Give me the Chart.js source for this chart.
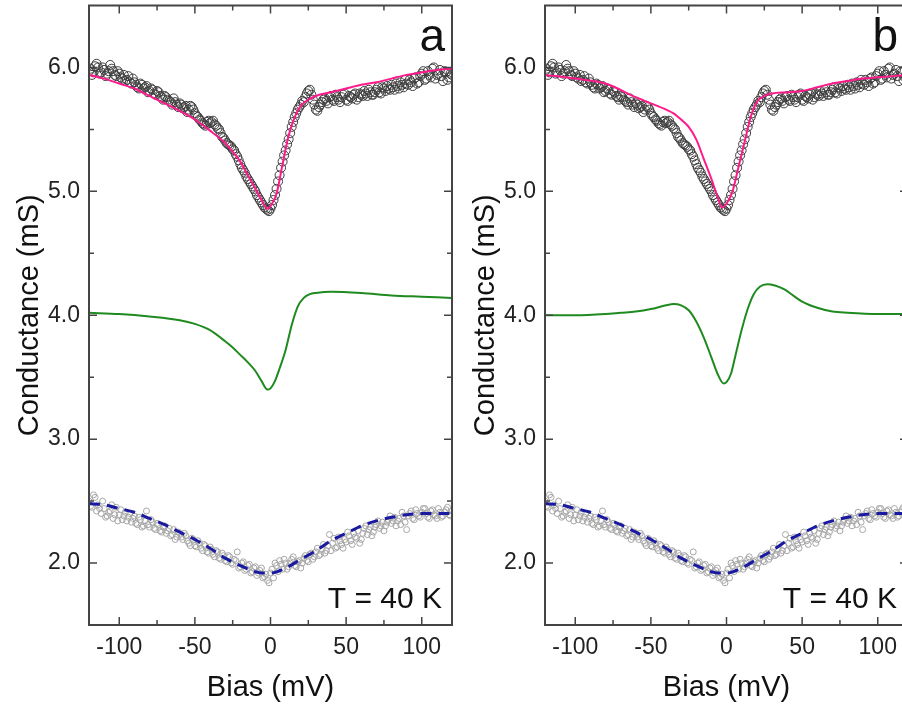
<!DOCTYPE html>
<html>
<head>
<meta charset="utf-8">
<script src="https://cdn.jsdelivr.net/npm/chart.js@4.4.1/dist/chart.umd.min.js"></script>
<style>
html, body { margin: 0; padding: 0; background: #fff; overflow: hidden; width: 902px; height: 710px; }
.panel { position: absolute; top: 0; width: 460px; height: 710px; }
#panelA { left: 0; }
#panelB { left: 456px; }
</style>
</head>
<body>
<div class="panel" id="panelA"><canvas id="chartA" width="460" height="710"></canvas></div>
<div class="panel" id="panelB"><canvas id="chartB" width="460" height="710"></canvas></div>
<script>
// measured bias grid (mV), even and odd sweeps
const bias = [-120,-118,-116,-114,-112,-110,-108,-106,-104,-102,-100,-98,-96,-94,-92,-90,-88,-86,-84,-82,
  -80,-78,-76,-74,-72,-70,-68,-66,-64,-62,-60,-58,-56,-54,-52,-50,-48,-46,-44,-42,
  -40,-38,-36,-34,-32,-30,-28,-26,-24,-22,-20,-18,-16,-14,-12,-10,-8,-6,-4,-2,
  0,2,4,6,8,10,12,14,16,18,20,22,24,26,28,30,32,34,36,38,
  40,42,44,46,48,50,52,54,56,58,60,62,64,66,68,70,72,74,76,78,
  80,82,84,86,88,90,92,94,96,98,100,102,104,106,108,110,112,114,116,118,120];
const biasOdd = [-119,-117,-115,-113,-111,-109,-107,-105,-103,-101,-99,-97,-95,-93,-91,-89,-87,-85,-83,-81,
  -79,-77,-75,-73,-71,-69,-67,-65,-63,-61,-59,-57,-55,-53,-51,-49,-47,-45,-43,-41,
  -39,-37,-35,-33,-31,-29,-27,-25,-23,-21,-19,-17,-15,-13,-11,-9,-7,-5,-3,-1,
  1,3,5,7,9,11,13,15,17,19,21,23,25,27,29,31,33,35,37,39,
  41,43,45,47,49,51,53,55,57,59,61,63,65,67,69,71,73,75,77,79,
  81,83,85,87,89,91,93,95,97,99,101,103,105,107,109,111,113,115,117,119];

// upper data set (black open circles), mS
const topData = [5.97,5.94,6.01,6.00,5.96,5.98,5.95,6.02,5.97,5.93,5.95,5.91,5.89,5.93,5.87,5.88,5.84,5.87,5.83,5.85,
  5.81,5.82,5.78,5.80,5.76,5.77,5.74,5.72,5.75,5.70,5.71,5.67,5.69,5.66,5.68,5.63,5.60,5.57,5.54,5.56,
  5.55,5.57,5.53,5.50,5.44,5.41,5.38,5.36,5.33,5.28,5.22,5.17,5.12,5.08,5.04,5.00,4.95,4.91,4.87,4.85,
  4.86,4.93,5.02,5.13,5.24,5.33,5.42,5.52,5.60,5.66,5.70,5.72,5.79,5.82,5.74,5.66,5.68,5.72,5.75,5.71,
  5.77,5.73,5.76,5.72,5.78,5.74,5.77,5.75,5.79,5.76,5.78,5.81,5.77,5.80,5.78,5.82,5.80,5.84,5.81,5.83,
  5.86,5.82,5.85,5.88,5.84,5.87,5.90,5.85,5.92,5.88,5.95,5.90,5.97,5.92,6.00,5.94,5.98,5.89,5.96,5.92,5.94];
const topDataOdd = [5.99,5.96,6.03,5.95,6.00,5.93,5.97,5.99,5.94,5.97,
  5.92,5.94,5.90,5.88,5.91,5.86,5.83,5.86,5.84,5.80,
  5.83,5.79,5.81,5.77,5.74,5.76,5.73,5.70,5.72,5.68,
  5.70,5.68,5.64,5.69,5.66,5.61,5.58,5.55,5.53,5.57,
  5.56,5.54,5.51,5.47,5.43,5.39,5.37,5.34,5.30,5.25,
  5.19,5.15,5.10,5.06,5.02,4.97,4.93,4.89,4.86,4.84,
  4.89,4.97,5.08,5.19,5.29,5.38,5.47,5.56,5.63,5.68,
  5.73,5.76,5.81,5.78,5.70,5.65,5.70,5.74,5.73,5.76,
  5.74,5.78,5.74,5.76,5.79,5.73,5.76,5.78,5.74,5.79,
  5.77,5.79,5.82,5.78,5.80,5.84,5.79,5.83,5.85,5.82,
  5.84,5.87,5.83,5.86,5.90,5.86,5.88,5.91,5.87,5.93,
  5.97,5.91,5.94,5.99,5.91,5.95,5.93,5.97,5.90,5.95];

// lower data set (grey open circles), mS
const lowData = [2.50,2.45,2.53,2.47,2.40,2.44,2.38,2.42,2.36,2.45,2.39,2.35,2.41,2.37,2.33,2.38,2.31,2.35,2.30,2.42,
  2.29,2.33,2.27,2.31,2.25,2.30,2.26,2.22,2.27,2.21,2.24,2.19,2.22,2.16,2.20,2.14,2.18,2.12,2.15,2.09,
  2.13,2.07,2.10,2.04,2.08,2.02,2.06,2.00,2.03,2.09,1.97,2.01,1.95,1.99,1.93,1.97,1.92,1.96,1.89,1.86,
  1.92,1.88,1.98,2.02,1.95,2.00,1.97,2.03,1.98,2.01,1.96,2.04,2.02,2.07,2.03,2.09,2.06,2.11,2.08,2.14,
  2.10,2.20,2.13,2.18,2.12,2.17,2.22,2.15,2.21,2.26,2.19,2.28,2.23,2.29,2.25,2.31,2.28,2.33,2.30,2.35,
  2.32,2.37,2.34,2.31,2.38,2.27,2.40,2.36,2.43,2.38,2.41,2.44,2.37,2.42,2.39,2.36,2.41,2.38,2.43,2.39,2.42];
const lowDataOdd = [2.46,2.55,2.42,2.44,2.50,2.37,2.41,2.47,2.39,2.34,
  2.43,2.38,2.34,2.40,2.36,2.32,2.37,2.29,2.34,2.31,
  2.35,2.28,2.32,2.26,2.29,2.24,2.28,2.23,2.19,2.25,
  2.21,2.24,2.18,2.14,2.19,2.13,2.16,2.10,2.14,2.08,
  2.11,2.05,2.09,2.03,2.06,2.01,2.05,1.99,2.02,1.96,
  2.00,1.94,1.98,1.92,1.96,1.90,1.94,1.88,1.91,1.84,
  1.95,2.00,1.93,1.99,2.03,1.95,2.00,2.05,1.97,2.02,
  2.00,2.06,2.01,2.08,2.05,2.12,2.07,2.15,2.10,2.23,
  2.16,2.12,2.21,2.15,2.19,2.25,2.18,2.24,2.20,2.16,
  2.24,2.30,2.27,2.22,2.29,2.34,2.30,2.26,2.33,2.38,
  2.34,2.30,2.36,2.41,2.33,2.38,2.42,2.35,2.40,2.37,
  2.44,2.40,2.36,2.43,2.38,2.44,2.37,2.41,2.45,2.38];

// fits, panel a
const pinkAX = [-120,-110,-100,-90,-80,-70,-60,-50,-40,-30,-25,-20,-15,-10,-6,-2,0,4,8,12,16,20,25,30,40,50,60,70,80,90,100,110,120];
const pinkAY = [5.94,5.91,5.87,5.83,5.77,5.71,5.65,5.58,5.49,5.39,5.32,5.24,5.13,5.02,4.93,4.86,4.88,4.98,5.22,5.45,5.60,5.69,5.74,5.77,5.80,5.83,5.86,5.88,5.91,5.94,5.96,5.98,5.99];
const greenAX = [-120,-100,-80,-60,-50,-40,-30,-25,-20,-15,-10,-6,-2,0,3,6,10,14,18,22,26,30,40,60,80,100,120];
const greenAY = [4.02,4.01,3.99,3.96,3.93,3.88,3.79,3.74,3.68,3.62,3.55,3.47,3.40,3.41,3.47,3.57,3.72,3.92,4.07,4.14,4.17,4.18,4.19,4.18,4.16,4.15,4.14];

// fits, panel b
const pinkBX = [-120,-100,-80,-60,-50,-40,-35,-30,-25,-20,-15,-10,-6,-3,0,4,8,12,16,20,25,30,40,50,60,70,80,90,100,110,120];
const pinkBY = [5.94,5.91,5.87,5.76,5.71,5.66,5.63,5.58,5.52,5.42,5.26,5.10,4.96,4.87,4.90,5.00,5.20,5.40,5.60,5.72,5.77,5.79,5.80,5.81,5.84,5.87,5.89,5.91,5.92,5.93,5.94];
const greenBX = [-120,-100,-80,-70,-60,-50,-40,-35,-30,-25,-20,-15,-10,-6,-2,0,3,6,10,14,18,22,27,32,38,44,50,60,70,80,100,120];
const greenBY = [4.00,4.00,4.01,4.02,4.03,4.05,4.08,4.09,4.08,4.04,3.95,3.82,3.66,3.53,3.45,3.46,3.53,3.68,3.88,4.05,4.17,4.23,4.25,4.24,4.21,4.16,4.11,4.06,4.03,4.02,4.01,4.01];

// dashed fit of lower data (same in both panels)
const blueX = [-120,-110,-100,-90,-80,-70,-60,-50,-40,-30,-20,-10,-5,0,10,20,30,40,50,60,70,80,90,100,110,120];
const blueY = [2.48,2.47,2.44,2.41,2.36,2.31,2.25,2.19,2.12,2.04,1.98,1.93,1.92,1.92,1.96,2.03,2.10,2.18,2.24,2.30,2.34,2.37,2.39,2.40,2.40,2.40];

// ticks
const xMajor = [-100, -50, 0, 50, 100];
const xMinor = [-75, -25, 25, 75];
const yMajor = [2.0, 3.0, 4.0, 5.0, 6.0];
const yMinor = [2.5, 3.5, 4.5, 5.5];

const FONT = '"Liberation Sans", Arial, Helvetica, sans-serif';

function pts(xs, ys) {
    return xs.map((x, i) => ({ x: x, y: ys[i] }));
}

const frameTicks = {
    id: 'frameTicks',
    afterDatasetsDraw(chart, args, opts) {
        const { ctx, chartArea: a, scales: { x, y } } = chart;
        ctx.save();
        ctx.strokeStyle = '#444';
        ctx.lineWidth = 1.5;
        ctx.beginPath();
        const tickX = (v, len) => {
            const p = x.getPixelForValue(v);
            ctx.moveTo(p, a.bottom); ctx.lineTo(p, a.bottom - len);
            ctx.moveTo(p, a.top); ctx.lineTo(p, a.top + len);
        };
        const tickY = (v, len) => {
            const p = y.getPixelForValue(v);
            ctx.moveTo(a.left, p); ctx.lineTo(a.left + len, p);
            ctx.moveTo(a.right, p); ctx.lineTo(a.right - len, p);
        };
        xMajor.forEach(v => tickX(v, 8));
        xMinor.forEach(v => tickX(v, 5));
        yMajor.forEach(v => tickY(v, 8));
        yMinor.forEach(v => tickY(v, 5));
        ctx.stroke();
        ctx.lineWidth = 2;
        ctx.strokeRect(a.left, a.top, a.right - a.left, a.bottom - a.top);

        ctx.fillStyle = '#111';
        ctx.textAlign = 'right';
        ctx.textBaseline = 'alphabetic';
        ctx.font = '46px ' + FONT;
        ctx.fillText(opts.letter, a.right - opts.letterRight, a.top + 45);
        ctx.font = '30px ' + FONT;
        ctx.fillText('T = 40 K', a.right - opts.tRight, a.bottom - 17);
        ctx.restore();
    }
};

function makeChart(id, pinkX, pinkY, greenX, greenY, letter, letterRight, tRight) {
    const ctx = document.getElementById(id).getContext('2d');
    return new Chart(ctx, {
        type: 'scatter',
        data: {
            datasets: [
                {
                    data: pts(pinkX, pinkY),
                    showLine: true,
                    borderColor: '#ff1a8c',
                    borderWidth: 2,
                    pointRadius: 0,
                    cubicInterpolationMode: 'monotone',
                    order: 0
                },
                {
                    data: pts(bias.concat(biasOdd), topData.concat(topDataOdd)),
                    pointRadius: 4.5,
                    pointBorderColor: '#3c3c3c',
                    pointBackgroundColor: 'rgba(255,255,255,0)',
                    pointBorderWidth: 1,
                    order: 2
                },
                {
                    data: pts(greenX, greenY),
                    showLine: true,
                    borderColor: '#1f8a1f',
                    borderWidth: 2,
                    pointRadius: 0,
                    cubicInterpolationMode: 'monotone',
                    order: 0
                },
                {
                    data: pts(blueX, blueY),
                    showLine: true,
                    borderColor: '#1a1aa0',
                    borderWidth: 3,
                    borderDash: [11, 7],
                    pointRadius: 0,
                    cubicInterpolationMode: 'monotone',
                    order: 0
                },
                {
                    data: pts(bias.concat(biasOdd), lowData.concat(lowDataOdd)),
                    pointRadius: 3,
                    pointBorderColor: '#a6a6a6',
                    pointBackgroundColor: 'rgba(255,255,255,0)',
                    pointBorderWidth: 1,
                    order: 2
                }
            ]
        },
        options: {
            responsive: false,
            animation: false,
            devicePixelRatio: 1,
            layout: { padding: { top: 3, right: 8, left: 0, bottom: 0 } },
            scales: {
                x: {
                    type: 'linear',
                    min: -120,
                    max: 120,
                    afterFit: s => { s.height = 85; s.paddingLeft = 0; s.paddingRight = 0; },
                    afterBuildTicks: s => { s.ticks = xMajor.map(v => ({ value: v })); },
                    grid: { display: false, drawTicks: false },
                    border: { display: false },
                    ticks: {
                        color: '#222',
                        font: { family: FONT, size: 23 },
                        padding: 9,
                        maxRotation: 0,
                        callback: v => String(v)
                    },
                    title: {
                        display: true,
                        text: 'Bias (mV)',
                        color: '#111',
                        font: { family: FONT, size: 29 },
                        padding: { top: 0, bottom: 5 }
                    }
                },
                y: {
                    type: 'linear',
                    min: 1.5,
                    max: 6.5,
                    afterFit: s => { s.width = 89; s.paddingTop = 0; s.paddingBottom = 0; },
                    afterBuildTicks: s => { s.ticks = yMajor.map(v => ({ value: v })); },
                    grid: { display: false, drawTicks: false },
                    border: { display: false },
                    ticks: {
                        color: '#222',
                        font: { family: FONT, size: 23 },
                        padding: 9,
                        callback: v => v.toFixed(1)
                    },
                    title: {
                        display: true,
                        text: 'Conductance (mS)',
                        color: '#111',
                        font: { family: FONT, size: 29 },
                        padding: { top: 13, bottom: 0 }
                    }
                }
            },
            plugins: {
                legend: { display: false },
                tooltip: { enabled: false },
                frameTicks: { letter: letter, letterRight: letterRight, tRight: tRight }
            }
        },
        plugins: [frameTicks]
    });
}

makeChart('chartA', pinkAX, pinkAY, greenAX, greenAY, 'a', 7, 10);
makeChart('chartB', pinkBX, pinkBY, greenBX, greenBY, 'b', 10, 11);
</script>
</body>
</html>
